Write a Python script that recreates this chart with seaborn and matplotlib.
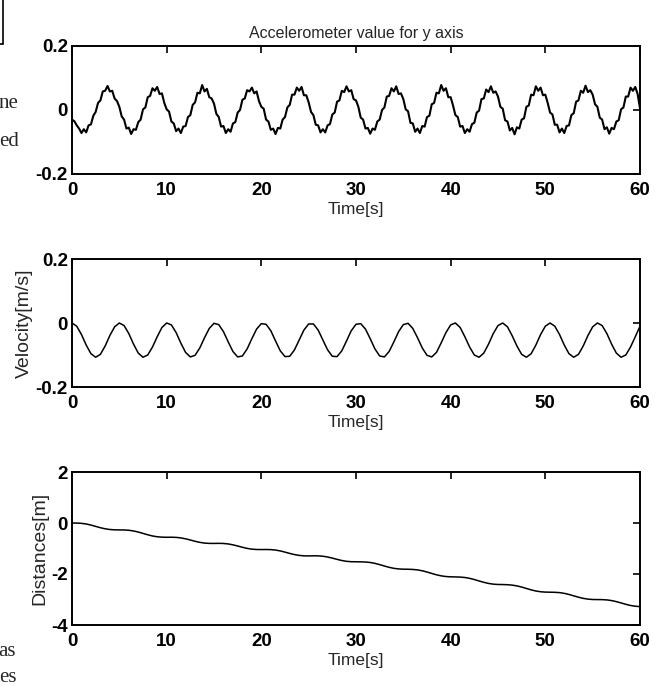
import numpy as np
import pandas as pd
import matplotlib
matplotlib.use("Agg")
import matplotlib.pyplot as plt
import seaborn as sns
from matplotlib.lines import Line2D

# ---------------- data ----------------
acc_time = np.linspace(0, 60, 241)   # 0.25 s samples
acc_y = [
    -0.030, -0.035, -0.048, -0.058, -0.072, -0.060, -0.070, -0.048, -0.045, -0.018, -0.006, 0.022, 0.030, 0.058, 0.060, 0.075, 0.058, 0.060, 0.036, 0.028,
    0.010, -0.020, -0.030, -0.058, -0.055, -0.075, -0.060, -0.062, -0.038, -0.030, 0.002, 0.008, 0.040, 0.044, 0.068, 0.060, 0.072, 0.050, 0.052, 0.022,
    0.002, -0.005, -0.036, -0.042, -0.066, -0.058, -0.072, -0.052, -0.050, -0.022, -0.016, 0.016, 0.024, 0.054, 0.052, 0.078, 0.058, 0.066, 0.040, 0.036,
    0.020, -0.012, -0.022, -0.052, -0.050, -0.072, -0.060, -0.068, -0.042, -0.038, -0.008, 0.000, 0.032, 0.036, 0.062, 0.058, 0.070, 0.052, 0.058, 0.028,
    0.010, 0.004, -0.030, -0.036, -0.062, -0.058, -0.075, -0.056, -0.058, -0.030, -0.022, 0.008, 0.016, 0.048, 0.048, 0.070, 0.060, 0.072, 0.046, 0.046,
    0.024, -0.006, -0.016, -0.046, -0.048, -0.070, -0.060, -0.070, -0.048, -0.044, -0.014, -0.008, 0.026, 0.030, 0.060, 0.056, 0.074, 0.058, 0.062, 0.034,
    0.030, 0.010, -0.024, -0.030, -0.058, -0.056, -0.074, -0.058, -0.062, -0.036, -0.030, 0.000, 0.008, 0.042, 0.044, 0.068, 0.058, 0.074, 0.050, 0.052,
    0.034, 0.002, -0.004, -0.040, -0.042, -0.068, -0.058, -0.072, -0.050, -0.052, -0.022, -0.018, 0.018, 0.022, 0.054, 0.052, 0.078, 0.060, 0.068, 0.040,
    0.040, 0.014, -0.016, -0.022, -0.052, -0.050, -0.072, -0.060, -0.068, -0.044, -0.040, -0.008, -0.002, 0.034, 0.036, 0.064, 0.056, 0.074, 0.054, 0.058,
    0.042, 0.010, 0.004, -0.032, -0.036, -0.064, -0.056, -0.076, -0.054, -0.058, -0.030, -0.026, 0.010, 0.014, 0.048, 0.046, 0.074, 0.060, 0.070, 0.046,
    0.048, 0.022, -0.008, -0.014, -0.046, -0.046, -0.070, -0.058, -0.072, -0.050, -0.048, -0.016, -0.010, 0.026, 0.030, 0.060, 0.054, 0.076, 0.056, 0.062,
    0.048, 0.018, 0.010, -0.024, -0.030, -0.060, -0.054, -0.074, -0.056, -0.060, -0.036, -0.032, 0.002, 0.008, 0.042, 0.042, 0.070, 0.060, 0.072, 0.050,
    0.005,
]

vel_time = np.linspace(0, 60, 121)   # 0.5 s samples
vel_y = [
    0.000, -0.010, -0.036, -0.069, -0.096, -0.107, -0.098, -0.072, -0.039, -0.012,
    0.000, -0.008, -0.033, -0.066, -0.094, -0.107, -0.100, -0.075, -0.043, -0.014,
    0.000, -0.006, -0.030, -0.063, -0.092, -0.106, -0.101, -0.078, -0.046, -0.017,
    -0.001, -0.005, -0.027, -0.059, -0.089, -0.106, -0.103, -0.081, -0.049, -0.019,
    -0.002, -0.004, -0.024, -0.056, -0.087, -0.105, -0.104, -0.084, -0.053, -0.022,
    -0.003, -0.003, -0.022, -0.053, -0.084, -0.104, -0.105, -0.087, -0.056, -0.024,
    -0.004, -0.002, -0.019, -0.049, -0.081, -0.103, -0.106, -0.089, -0.059, -0.027,
    -0.005, -0.001, -0.017, -0.046, -0.078, -0.101, -0.106, -0.092, -0.062, -0.030,
    -0.006, 0.000, -0.014, -0.043, -0.075, -0.100, -0.107, -0.094, -0.066, -0.033,
    -0.008, 0.000, -0.012, -0.040, -0.072, -0.098, -0.107, -0.096, -0.069, -0.036,
    -0.010, 0.000, -0.010, -0.036, -0.069, -0.096, -0.107, -0.098, -0.072, -0.039,
    -0.012, 0.000, -0.008, -0.033, -0.066, -0.094, -0.107, -0.100, -0.075, -0.043,
    -0.010,
]

dist_time = np.linspace(0, 60, 121)  # 0.5 s samples
dist_y = [
    0.000, -0.002, -0.013, -0.039, -0.081, -0.133, -0.185, -0.227, -0.255, -0.268,
    -0.271, -0.273, -0.285, -0.312, -0.355, -0.407, -0.462, -0.508, -0.540, -0.555,
    -0.560, -0.558, -0.564, -0.584, -0.620, -0.667, -0.717, -0.759, -0.788, -0.800,
    -0.801, -0.798, -0.803, -0.821, -0.856, -0.902, -0.952, -0.996, -1.026, -1.039,
    -1.041, -1.039, -1.044, -1.061, -1.095, -1.142, -1.193, -1.238, -1.271, -1.288,
    -1.291, -1.287, -1.288, -1.303, -1.334, -1.377, -1.426, -1.471, -1.503, -1.518,
    -1.521, -1.523, -1.530, -1.548, -1.583, -1.632, -1.687, -1.738, -1.778, -1.801,
    -1.811, -1.814, -1.821, -1.839, -1.874, -1.922, -1.978, -2.031, -2.073, -2.099,
    -2.111, -2.115, -2.121, -2.137, -2.170, -2.217, -2.273, -2.326, -2.370, -2.398,
    -2.411, -2.414, -2.420, -2.436, -2.467, -2.512, -2.567, -2.622, -2.667, -2.696,
    -2.710, -2.714, -2.718, -2.730, -2.759, -2.803, -2.857, -2.910, -2.955, -2.985,
    -3.000, -3.003, -3.005, -3.016, -3.042, -3.083, -3.135, -3.189, -3.234, -3.264,
    -3.279,
]

x_ticks = [0, 10, 20, 30, 40, 50, 60]
acc_ticks = [-0.2, 0, 0.2]
acc_ticklabels = ["-0.2", "0", "0.2"]
vel_ticks = [-0.2, 0, 0.2]
vel_ticklabels = ["-0.2", "0", "0.2"]
dist_ticks = [-4, -2, 0, 2]
dist_ticklabels = ["-4", "-2", "0", "2"]

title_text = "Accelerometer value for y axis"
xlabel_text = "Time[s]"
vel_label = "Velocity[m/s]"
dist_label = "Distances[m]"

# ---------------- style ----------------
sns.set_style("white")
plt.rcParams["font.family"] = ["Liberation Sans", "DejaVu Sans"]

W, H = 662, 687
fig = plt.figure(figsize=(W / 100, H / 100), dpi=100)

def ax_rect(left, top, right, bottom):
    return [left / W, 1 - bottom / H, (right - left) / W, (bottom - top) / H]

ax1 = fig.add_axes(ax_rect(72, 46, 640, 174))
ax2 = fig.add_axes(ax_rect(72, 259, 640, 387))
ax3 = fig.add_axes(ax_rect(72, 472, 640, 625))

df_acc = pd.DataFrame({"t": acc_time, "v": acc_y})
df_vel = pd.DataFrame({"t": vel_time, "v": vel_y})
df_dist = pd.DataFrame({"t": dist_time, "v": dist_y})

sns.lineplot(data=df_acc, x="t", y="v", ax=ax1, color="black", linewidth=1.5)
sns.lineplot(data=df_vel, x="t", y="v", ax=ax2, color="black", linewidth=1.1)
sns.lineplot(data=df_dist, x="t", y="v", ax=ax3, color="black", linewidth=1.1)

tick_fs = 13.5
for ax, yt, ytl, yl in [
    (ax1, acc_ticks, acc_ticklabels, (-0.2, 0.2)),
    (ax2, vel_ticks, vel_ticklabels, (-0.2, 0.2)),
    (ax3, dist_ticks, dist_ticklabels, (-4, 2)),
]:
    ax.set_xlim(0, 60)
    ax.set_ylim(*yl)
    ax.set_xticks(x_ticks)
    ax.set_xticklabels([str(v) for v in x_ticks], fontsize=tick_fs, fontweight="bold")
    ax.set_yticks(yt)
    ax.set_yticklabels(ytl, fontsize=tick_fs, fontweight="bold")
    ax.tick_params(direction="in", length=5, width=1.2, top=True, right=True,
                   colors="black", pad=6)
    ax.tick_params(axis="y", pad=3)
    for s in ax.spines.values():
        s.set_color("black")
        s.set_linewidth(1.4)
    ax.set_xlabel(xlabel_text, fontsize=12.5, labelpad=2)
    ax.set_ylabel("")

ax1.set_title(title_text, fontsize=11.5, pad=6)
ax2.set_ylabel(vel_label, fontsize=14, labelpad=2)
ax3.set_ylabel(dist_label, fontsize=14, labelpad=2)

# page fragments visible at the left edge of the scan
serif = ["Liberation Serif", "DejaVu Serif"]
fig.text(-0.002, 1 - 104 / H, "ne", fontsize=15, family=serif, va="center", ha="left")
fig.text(-0.002, 1 - 141 / H, "ed", fontsize=15, family=serif, va="center", ha="left")
fig.text(-0.002, 1 - 651 / H, "as", fontsize=15, family=serif, va="center", ha="left")
fig.text(-0.002, 1 - 677 / H, "es", fontsize=15, family=serif, va="center", ha="left")
fig.add_artist(Line2D([3 / W, 3 / W], [1.0, 1 - 44 / H], transform=fig.transFigure,
                      color="black", linewidth=1.2))
fig.add_artist(Line2D([0, 3 / W], [1 - 44 / H, 1 - 44 / H], transform=fig.transFigure,
                      color="black", linewidth=1.2))

fig.savefig("out.png", dpi=100)
